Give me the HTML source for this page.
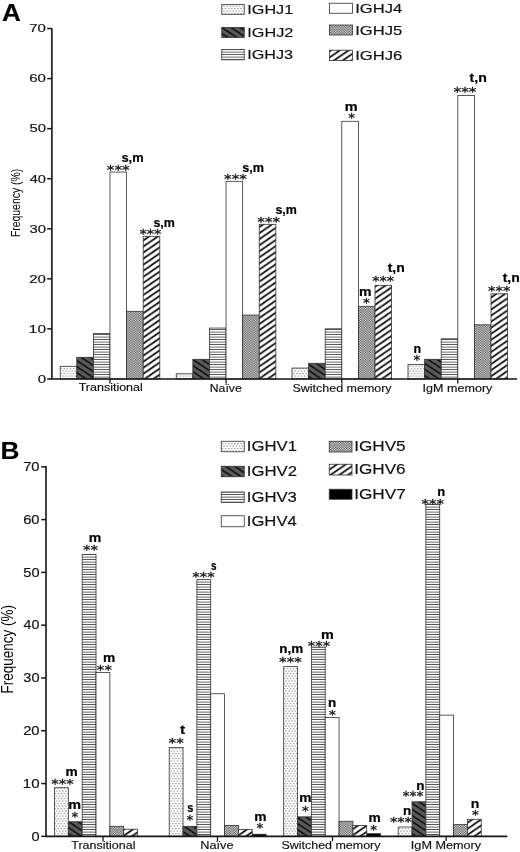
<!DOCTYPE html>
<html lang="en"><head><meta charset="utf-8"><title>Figure</title>
<style>html,body{margin:0;padding:0;background:#fff}svg{display:block}text{font-family:"Liberation Sans", sans-serif}text.dv{font-family:"DejaVu Sans",sans-serif}</style>
</head><body>
<svg width="520" height="852" viewBox="0 0 520 852">
<rect width="520" height="852" fill="#fff"/>
<defs>
<pattern id="ap1" width="3.100" height="5.000" patternUnits="userSpaceOnUse">
<rect width="3.100" height="5.000" fill="#fbfbfb"/>
<rect x="0.2" y="0.5" width="1.15" height="1.15" fill="#8c8c8c"/>
<rect x="1.750" y="3.000" width="1.15" height="1.15" fill="#8c8c8c"/>
</pattern>
<pattern id="ap2" width="9.045" height="6.060" patternUnits="userSpaceOnUse">
<rect width="9.045" height="6.060" fill="#5a5a5a"/>
<path d="M-9.045,-12.120 L18.090,6.060 M-9.045,-6.060 L18.090,12.120 M-9.045,0.000 L18.090,18.180 M-9.045,6.060 L18.090,24.240" stroke="#080808" stroke-width="1.50"/>
</pattern>
<pattern id="ap3" width="10" height="2.500" patternUnits="userSpaceOnUse">
<rect width="10" height="2.500" fill="#fff"/>
<rect y="1.640" width="10" height="0.86" fill="#484848"/>
</pattern>
<pattern id="ap5" width="2.500" height="1.730" patternUnits="userSpaceOnUse">
<rect width="2.500" height="1.730" fill="#fff"/>
<path d="M-2.500,1.730 L5.000,-3.460 M-2.500,3.460 L5.000,-1.730 M-2.500,5.190 L5.000,0.000 M-2.500,6.920 L5.000,1.730" stroke="#111" stroke-width="0.72"/>
</pattern>
<pattern id="ap6" width="8.783" height="6.060" patternUnits="userSpaceOnUse">
<rect width="8.783" height="6.060" fill="#fff"/>
<path d="M-8.783,6.060 L17.565,-12.120 M-8.783,12.120 L17.565,-6.060 M-8.783,18.180 L17.565,0.000 M-8.783,24.240 L17.565,6.060" stroke="#0a0a0a" stroke-width="1.70"/>
</pattern>
<pattern id="bp1" width="3.100" height="5.000" patternUnits="userSpaceOnUse">
<rect width="3.100" height="5.000" fill="#fbfbfb"/>
<rect x="0.2" y="0.5" width="1.15" height="1.15" fill="#8c8c8c"/>
<rect x="1.750" y="3.000" width="1.15" height="1.15" fill="#8c8c8c"/>
</pattern>
<pattern id="bp2" width="9.045" height="6.060" patternUnits="userSpaceOnUse">
<rect width="9.045" height="6.060" fill="#5a5a5a"/>
<path d="M-9.045,-12.120 L18.090,6.060 M-9.045,-6.060 L18.090,12.120 M-9.045,0.000 L18.090,18.180 M-9.045,6.060 L18.090,24.240" stroke="#080808" stroke-width="1.50"/>
</pattern>
<pattern id="bp3" width="10" height="2.500" patternUnits="userSpaceOnUse">
<rect width="10" height="2.500" fill="#fff"/>
<rect y="1.640" width="10" height="0.86" fill="#444"/>
</pattern>
<pattern id="bp5" width="2.500" height="1.730" patternUnits="userSpaceOnUse">
<rect width="2.500" height="1.730" fill="#fff"/>
<path d="M-2.500,1.730 L5.000,-3.460 M-2.500,3.460 L5.000,-1.730 M-2.500,5.190 L5.000,0.000 M-2.500,6.920 L5.000,1.730" stroke="#111" stroke-width="0.72"/>
</pattern>
<pattern id="bp6" width="8.783" height="6.060" patternUnits="userSpaceOnUse">
<rect width="8.783" height="6.060" fill="#fff"/>
<path d="M-8.783,6.060 L17.565,-12.120 M-8.783,12.120 L17.565,-6.060 M-8.783,18.180 L17.565,0.000 M-8.783,24.240 L17.565,6.060" stroke="#0a0a0a" stroke-width="1.70"/>
</pattern>
</defs>
<rect x="60.20" y="366.30" width="16.60" height="12.65" fill="url(#ap1)" stroke="#333" stroke-width="0.8"/>
<rect x="76.80" y="357.30" width="16.60" height="21.65" fill="url(#ap2)" stroke="#333" stroke-width="0.8"/>
<rect x="93.40" y="333.55" width="16.60" height="45.40" fill="url(#ap3)" stroke="#333" stroke-width="0.8"/>
<rect x="110.00" y="172.05" width="16.60" height="206.90" fill="#fff" stroke="#333" stroke-width="0.8"/>
<rect x="126.60" y="311.30" width="16.60" height="67.65" fill="url(#ap5)" stroke="#333" stroke-width="0.8"/>
<rect x="143.20" y="236.30" width="16.60" height="142.65" fill="url(#ap6)" stroke="#333" stroke-width="0.8"/>
<rect x="176.25" y="373.80" width="16.60" height="5.15" fill="url(#ap1)" stroke="#333" stroke-width="0.8"/>
<rect x="192.85" y="359.30" width="16.60" height="19.65" fill="url(#ap2)" stroke="#333" stroke-width="0.8"/>
<rect x="209.45" y="328.05" width="16.60" height="50.90" fill="url(#ap3)" stroke="#333" stroke-width="0.8"/>
<rect x="226.05" y="181.30" width="16.60" height="197.65" fill="#fff" stroke="#333" stroke-width="0.8"/>
<rect x="242.65" y="315.05" width="16.60" height="63.90" fill="url(#ap5)" stroke="#333" stroke-width="0.8"/>
<rect x="259.25" y="224.30" width="16.60" height="154.65" fill="url(#ap6)" stroke="#333" stroke-width="0.8"/>
<rect x="292.00" y="368.05" width="16.60" height="10.90" fill="url(#ap1)" stroke="#333" stroke-width="0.8"/>
<rect x="308.60" y="363.30" width="16.60" height="15.65" fill="url(#ap2)" stroke="#333" stroke-width="0.8"/>
<rect x="325.20" y="328.80" width="16.60" height="50.15" fill="url(#ap3)" stroke="#333" stroke-width="0.8"/>
<rect x="341.80" y="121.30" width="16.60" height="257.65" fill="#fff" stroke="#333" stroke-width="0.8"/>
<rect x="358.40" y="306.30" width="16.60" height="72.65" fill="url(#ap5)" stroke="#333" stroke-width="0.8"/>
<rect x="375.00" y="285.30" width="16.60" height="93.65" fill="url(#ap6)" stroke="#333" stroke-width="0.8"/>
<rect x="408.00" y="364.55" width="16.60" height="14.40" fill="url(#ap1)" stroke="#333" stroke-width="0.8"/>
<rect x="424.60" y="359.30" width="16.60" height="19.65" fill="url(#ap2)" stroke="#333" stroke-width="0.8"/>
<rect x="441.20" y="338.80" width="16.60" height="40.15" fill="url(#ap3)" stroke="#333" stroke-width="0.8"/>
<rect x="457.80" y="95.55" width="16.60" height="283.40" fill="#fff" stroke="#333" stroke-width="0.8"/>
<rect x="474.40" y="324.80" width="16.60" height="54.15" fill="url(#ap5)" stroke="#333" stroke-width="0.8"/>
<rect x="491.00" y="293.80" width="16.60" height="85.15" fill="url(#ap6)" stroke="#333" stroke-width="0.8"/>
<path d="M51.9,28.15 V378.95 H517.1" fill="none" stroke="#151515" stroke-width="1.6"/>
<path d="M47.2,378.95 H51.9" stroke="#151515" stroke-width="1.5"/>
<text transform="translate(37.70,382.75) scale(1.429,1.000)" font-size="10.5" fill="#111" stroke="#111" stroke-width="0.15">0</text>
<path d="M47.2,328.89 H51.9" stroke="#151515" stroke-width="1.5"/>
<text transform="translate(28.84,332.69) scale(1.467,1.000)" font-size="10.5" fill="#111" stroke="#111" stroke-width="0.15">10</text>
<path d="M47.2,278.83 H51.9" stroke="#151515" stroke-width="1.5"/>
<text transform="translate(29.25,282.63) scale(1.431,1.000)" font-size="10.5" fill="#111" stroke="#111" stroke-width="0.15">20</text>
<path d="M47.2,228.77 H51.9" stroke="#151515" stroke-width="1.5"/>
<text transform="translate(29.40,232.57) scale(1.417,1.000)" font-size="10.5" fill="#111" stroke="#111" stroke-width="0.15">30</text>
<path d="M47.2,178.71 H51.9" stroke="#151515" stroke-width="1.5"/>
<text transform="translate(29.71,182.51) scale(1.390,1.000)" font-size="10.5" fill="#111" stroke="#111" stroke-width="0.15">40</text>
<path d="M47.2,128.65 H51.9" stroke="#151515" stroke-width="1.5"/>
<text transform="translate(29.40,132.45) scale(1.417,1.000)" font-size="10.5" fill="#111" stroke="#111" stroke-width="0.15">50</text>
<path d="M47.2,78.59 H51.9" stroke="#151515" stroke-width="1.5"/>
<text transform="translate(29.25,82.39) scale(1.431,1.000)" font-size="10.5" fill="#111" stroke="#111" stroke-width="0.15">60</text>
<path d="M47.2,28.53 H51.9" stroke="#151515" stroke-width="1.5"/>
<text transform="translate(29.25,32.33) scale(1.431,1.000)" font-size="10.5" fill="#111" stroke="#111" stroke-width="0.15">70</text>
<path d="M110.00,378.95 V383.55" stroke="#151515" stroke-width="1.3"/>
<path d="M226.05,378.95 V383.55" stroke="#151515" stroke-width="1.3"/>
<path d="M341.80,378.95 V383.55" stroke="#151515" stroke-width="1.3"/>
<path d="M457.80,378.95 V383.55" stroke="#151515" stroke-width="1.3"/>
<text transform="translate(78.65,391.40) scale(1.226,1.000)" font-size="10.2" fill="#111" stroke="#111" stroke-width="0.15">Transitional</text>
<text transform="translate(209.77,391.60) scale(1.203,1.000)" font-size="10.2" fill="#111" stroke="#111" stroke-width="0.15">Naïve</text>
<text transform="translate(292.44,391.60) scale(1.225,1.000)" font-size="10.2" fill="#111" stroke="#111" stroke-width="0.15">Switched memory</text>
<text transform="translate(422.62,391.60) scale(1.232,1.000)" font-size="10.2" fill="#111" stroke="#111" stroke-width="0.15">IgM memory</text>
<text transform="translate(20.2,237.1) rotate(-90) scale(1,1.12)" font-size="10.6" textLength="68.3" lengthAdjust="spacingAndGlyphs">Frequency (%)</text>
<text transform="translate(2.05,21.00) scale(1.111,1.000)" font-size="23.5" font-weight="bold" fill="#000" stroke="#000" stroke-width="0.2">A</text>
<rect x="221.75" y="4.50" width="22.50" height="9.80" fill="url(#ap1)" stroke="#333" stroke-width="0.8"/>
<text transform="translate(247.29,13.75) scale(1.276,1.000)" font-size="12.7" fill="#111" stroke="#111" stroke-width="0.15">IGHJ1</text>
<rect x="221.75" y="27.50" width="22.50" height="10.00" fill="url(#ap2)" stroke="#333" stroke-width="0.8"/>
<text transform="translate(247.29,36.60) scale(1.278,1.000)" font-size="12.7" fill="#111" stroke="#111" stroke-width="0.15">IGHJ2</text>
<rect x="221.75" y="49.50" width="22.50" height="10.30" fill="url(#ap3)" stroke="#333" stroke-width="0.8"/>
<text transform="translate(247.29,58.80) scale(1.274,1.000)" font-size="12.7" fill="#111" stroke="#111" stroke-width="0.15">IGHJ3</text>
<rect x="329.50" y="3.25" width="23.00" height="10.00" fill="#fff" stroke="#333" stroke-width="0.8"/>
<text transform="translate(355.26,12.50) scale(1.305,1.000)" font-size="12.7" fill="#111" stroke="#111" stroke-width="0.15">IGHJ4</text>
<rect x="329.50" y="25.00" width="23.00" height="10.00" fill="url(#ap5)" stroke="#333" stroke-width="0.8"/>
<text transform="translate(355.25,34.50) scale(1.310,1.000)" font-size="12.7" fill="#111" stroke="#111" stroke-width="0.15">IGHJ5</text>
<rect x="329.50" y="50.20" width="23.00" height="10.40" fill="url(#ap6)" stroke="#333" stroke-width="0.8"/>
<text transform="translate(355.25,60.00) scale(1.310,1.000)" font-size="12.7" fill="#111" stroke="#111" stroke-width="0.15">IGHJ6</text>
<text transform="translate(106.79,174.44) scale(1.049,0.885)" font-size="14.5" class="dv" fill="#111" stroke="#111" stroke-width="0.3">***</text>
<text transform="translate(121.40,162.05) scale(1.050,1.000)" font-size="12.3" font-weight="bold" fill="#000" stroke="#000" stroke-width="0.2">s,m</text>
<text transform="translate(139.38,237.69) scale(1.013,0.885)" font-size="14.5" class="dv" fill="#111" stroke="#111" stroke-width="0.3">***</text>
<text transform="translate(153.41,226.55) scale(1.013,1.000)" font-size="12.3" font-weight="bold" fill="#000" stroke="#000" stroke-width="0.2">s,m</text>
<text transform="translate(224.09,183.19) scale(1.049,0.885)" font-size="14.5" class="dv" fill="#111" stroke="#111" stroke-width="0.3">***</text>
<text transform="translate(242.16,171.55) scale(1.025,1.000)" font-size="12.3" font-weight="bold" fill="#000" stroke="#000" stroke-width="0.2">s,m</text>
<text transform="translate(257.34,225.69) scale(1.049,0.885)" font-size="14.5" class="dv" fill="#111" stroke="#111" stroke-width="0.3">***</text>
<text transform="translate(275.41,214.05) scale(1.013,1.000)" font-size="12.3" font-weight="bold" fill="#000" stroke="#000" stroke-width="0.2">s,m</text>
<text transform="translate(348.19,121.99) scale(0.940,0.885)" font-size="14.5" class="dv" fill="#111" stroke="#111" stroke-width="0.3">*</text>
<text transform="translate(344.86,111.10) scale(1.180,1.000)" font-size="12.3" font-weight="bold" fill="#000" stroke="#000" stroke-width="0.2">m</text>
<text transform="translate(363.09,307.19) scale(0.940,0.885)" font-size="14.5" class="dv" fill="#111" stroke="#111" stroke-width="0.3">*</text>
<text transform="translate(358.98,295.50) scale(1.148,1.000)" font-size="12.3" font-weight="bold" fill="#000" stroke="#000" stroke-width="0.2">m</text>
<text transform="translate(372.21,284.89) scale(1.011,0.885)" font-size="14.5" class="dv" fill="#111" stroke="#111" stroke-width="0.3">***</text>
<text transform="translate(387.66,271.50) scale(1.138,1.000)" font-size="12.3" font-weight="bold" fill="#000" stroke="#000" stroke-width="0.2">t,n</text>
<text transform="translate(413.59,364.44) scale(0.940,0.885)" font-size="14.5" class="dv" fill="#111" stroke="#111" stroke-width="0.3">*</text>
<text transform="translate(413.54,352.80) scale(1.014,1.000)" font-size="12.3" font-weight="bold" fill="#000" stroke="#000" stroke-width="0.2">n</text>
<text transform="translate(453.54,96.49) scale(1.054,0.885)" font-size="14.5" class="dv" fill="#111" stroke="#111" stroke-width="0.3">***</text>
<text transform="translate(469.56,82.40) scale(1.145,1.000)" font-size="12.3" font-weight="bold" fill="#000" stroke="#000" stroke-width="0.2">t,n</text>
<text transform="translate(488.10,295.09) scale(1.030,0.885)" font-size="14.5" class="dv" fill="#111" stroke="#111" stroke-width="0.3">***</text>
<text transform="translate(502.66,281.60) scale(1.138,1.000)" font-size="12.3" font-weight="bold" fill="#000" stroke="#000" stroke-width="0.2">t,n</text>
<rect x="54.50" y="787.68" width="13.84" height="48.67" fill="url(#bp1)" stroke="#333" stroke-width="0.8"/>
<rect x="68.34" y="821.73" width="13.84" height="14.62" fill="url(#bp2)" stroke="#333" stroke-width="0.8"/>
<rect x="82.18" y="554.38" width="13.84" height="281.97" fill="url(#bp3)" stroke="#333" stroke-width="0.8"/>
<rect x="96.02" y="672.43" width="13.84" height="163.92" fill="#fff" stroke="#333" stroke-width="0.8"/>
<rect x="109.86" y="826.31" width="13.84" height="10.04" fill="url(#bp5)" stroke="#333" stroke-width="0.8"/>
<rect x="123.70" y="829.21" width="13.84" height="7.14" fill="url(#bp6)" stroke="#333" stroke-width="0.8"/>
<rect x="169.20" y="747.53" width="13.84" height="88.82" fill="url(#bp1)" stroke="#333" stroke-width="0.8"/>
<rect x="183.04" y="826.31" width="13.84" height="10.04" fill="url(#bp2)" stroke="#333" stroke-width="0.8"/>
<rect x="196.88" y="579.68" width="13.84" height="256.67" fill="url(#bp3)" stroke="#333" stroke-width="0.8"/>
<rect x="210.72" y="693.77" width="13.84" height="142.58" fill="#fff" stroke="#333" stroke-width="0.8"/>
<rect x="224.56" y="825.52" width="13.84" height="10.83" fill="url(#bp5)" stroke="#333" stroke-width="0.8"/>
<rect x="238.40" y="829.48" width="13.84" height="6.87" fill="url(#bp6)" stroke="#333" stroke-width="0.8"/>
<rect x="252.24" y="834.22" width="13.84" height="2.13" fill="#000" stroke="#333" stroke-width="0.8"/>
<rect x="283.70" y="666.63" width="13.84" height="169.72" fill="url(#bp1)" stroke="#333" stroke-width="0.8"/>
<rect x="297.54" y="816.83" width="13.84" height="19.52" fill="url(#bp2)" stroke="#333" stroke-width="0.8"/>
<rect x="311.38" y="647.13" width="13.84" height="189.22" fill="url(#bp3)" stroke="#333" stroke-width="0.8"/>
<rect x="325.22" y="717.49" width="13.84" height="118.86" fill="#fff" stroke="#333" stroke-width="0.8"/>
<rect x="339.06" y="821.25" width="13.84" height="15.10" fill="url(#bp5)" stroke="#333" stroke-width="0.8"/>
<rect x="352.90" y="825.52" width="13.84" height="10.83" fill="url(#bp6)" stroke="#333" stroke-width="0.8"/>
<rect x="366.74" y="833.69" width="13.84" height="2.66" fill="#000" stroke="#333" stroke-width="0.8"/>
<rect x="398.20" y="827.00" width="13.84" height="9.35" fill="url(#bp1)" stroke="#333" stroke-width="0.8"/>
<rect x="412.04" y="801.76" width="13.84" height="34.59" fill="url(#bp2)" stroke="#333" stroke-width="0.8"/>
<rect x="425.88" y="504.32" width="13.84" height="332.03" fill="url(#bp3)" stroke="#333" stroke-width="0.8"/>
<rect x="439.72" y="715.12" width="13.84" height="121.23" fill="#fff" stroke="#333" stroke-width="0.8"/>
<rect x="453.56" y="824.63" width="13.84" height="11.72" fill="url(#bp5)" stroke="#333" stroke-width="0.8"/>
<rect x="467.40" y="819.30" width="13.84" height="17.05" fill="url(#bp6)" stroke="#333" stroke-width="0.8"/>
<path d="M46.0,466.02 V836.35 H507.3" fill="none" stroke="#151515" stroke-width="1.6"/>
<path d="M41.2,836.35 H46.0" stroke="#151515" stroke-width="1.5"/>
<text transform="translate(31.42,840.55) scale(1.215,1.000)" font-size="12.0" fill="#111" stroke="#111" stroke-width="0.15">0</text>
<path d="M41.2,783.56 H46.0" stroke="#151515" stroke-width="1.5"/>
<text transform="translate(22.77,787.76) scale(1.258,1.000)" font-size="12.0" fill="#111" stroke="#111" stroke-width="0.15">10</text>
<path d="M41.2,730.77 H46.0" stroke="#151515" stroke-width="1.5"/>
<text transform="translate(23.16,734.97) scale(1.228,1.000)" font-size="12.0" fill="#111" stroke="#111" stroke-width="0.15">20</text>
<path d="M41.2,677.98 H46.0" stroke="#151515" stroke-width="1.5"/>
<text transform="translate(23.32,682.18) scale(1.216,1.000)" font-size="12.0" fill="#111" stroke="#111" stroke-width="0.15">30</text>
<path d="M41.2,625.19 H46.0" stroke="#151515" stroke-width="1.5"/>
<text transform="translate(23.61,629.39) scale(1.193,1.000)" font-size="12.0" fill="#111" stroke="#111" stroke-width="0.15">40</text>
<path d="M41.2,572.40 H46.0" stroke="#151515" stroke-width="1.5"/>
<text transform="translate(23.32,576.60) scale(1.216,1.000)" font-size="12.0" fill="#111" stroke="#111" stroke-width="0.15">50</text>
<path d="M41.2,519.61 H46.0" stroke="#151515" stroke-width="1.5"/>
<text transform="translate(23.16,523.81) scale(1.228,1.000)" font-size="12.0" fill="#111" stroke="#111" stroke-width="0.15">60</text>
<path d="M41.2,466.82 H46.0" stroke="#151515" stroke-width="1.5"/>
<text transform="translate(23.16,471.02) scale(1.228,1.000)" font-size="12.0" fill="#111" stroke="#111" stroke-width="0.15">70</text>
<path d="M103.00,836.35 V840.95" stroke="#151515" stroke-width="1.3"/>
<path d="M217.50,836.35 V840.95" stroke="#151515" stroke-width="1.3"/>
<path d="M332.50,836.35 V840.95" stroke="#151515" stroke-width="1.3"/>
<path d="M446.20,836.35 V840.95" stroke="#151515" stroke-width="1.3"/>
<text transform="translate(71.25,848.90) scale(1.165,1.000)" font-size="10.75" fill="#111" stroke="#111" stroke-width="0.15">Transitional</text>
<text transform="translate(200.18,849.00) scale(1.187,1.000)" font-size="10.75" fill="#111" stroke="#111" stroke-width="0.15">Naïve</text>
<text transform="translate(281.44,849.00) scale(1.161,1.000)" font-size="10.75" fill="#111" stroke="#111" stroke-width="0.15">Switched memory</text>
<text transform="translate(410.86,849.10) scale(1.178,1.000)" font-size="10.75" fill="#111" stroke="#111" stroke-width="0.15">IgM Memory</text>
<text transform="translate(13.45,693.5) rotate(-90) scale(1,1.19)" font-size="13.6" textLength="88.5" lengthAdjust="spacingAndGlyphs">Frequency (%)</text>
<text transform="translate(0.60,459.40) scale(1.102,1.000)" font-size="23.8" font-weight="bold" fill="#000" stroke="#000" stroke-width="0.2">B</text>
<rect x="221.25" y="441.25" width="23.00" height="10.50" fill="url(#bp1)" stroke="#333" stroke-width="0.8"/>
<text transform="translate(246.74,450.75) scale(1.214,1.000)" font-size="13.8" fill="#111" stroke="#111" stroke-width="0.15">IGHV1</text>
<rect x="221.25" y="466.25" width="23.00" height="10.50" fill="url(#bp2)" stroke="#333" stroke-width="0.8"/>
<text transform="translate(246.74,476.25) scale(1.216,1.000)" font-size="13.8" fill="#111" stroke="#111" stroke-width="0.15">IGHV2</text>
<rect x="221.25" y="492.00" width="23.00" height="10.50" fill="url(#bp3)" stroke="#333" stroke-width="0.8"/>
<text transform="translate(246.74,502.00) scale(1.212,1.000)" font-size="13.8" fill="#111" stroke="#111" stroke-width="0.15">IGHV3</text>
<rect x="221.25" y="515.75" width="23.00" height="11.00" fill="#fff" stroke="#333" stroke-width="0.8"/>
<text transform="translate(246.75,525.75) scale(1.208,1.000)" font-size="13.8" fill="#111" stroke="#111" stroke-width="0.15">IGHV4</text>
<rect x="329.25" y="441.25" width="22.75" height="10.75" fill="url(#bp5)" stroke="#333" stroke-width="0.8"/>
<text transform="translate(354.21,451.25) scale(1.243,1.000)" font-size="13.8" fill="#111" stroke="#111" stroke-width="0.15">IGHV5</text>
<rect x="329.25" y="464.25" width="22.75" height="10.75" fill="url(#bp6)" stroke="#333" stroke-width="0.8"/>
<text transform="translate(354.21,474.25) scale(1.243,1.000)" font-size="13.8" fill="#111" stroke="#111" stroke-width="0.15">IGHV6</text>
<rect x="329.25" y="489.25" width="22.75" height="10.00" fill="#000" stroke="#333" stroke-width="0.8"/>
<text transform="translate(354.20,498.75) scale(1.248,1.000)" font-size="13.8" fill="#111" stroke="#111" stroke-width="0.15">IGHV7</text>
<text transform="translate(51.35,787.59) scale(1.034,0.885)" font-size="14.5" class="dv" fill="#111" stroke="#111" stroke-width="0.3">***</text>
<text transform="translate(65.51,775.50) scale(1.116,1.000)" font-size="12.3" font-weight="bold" fill="#000" stroke="#000" stroke-width="0.2">m</text>
<text transform="translate(71.59,821.29) scale(0.940,0.885)" font-size="14.5" class="dv" fill="#111" stroke="#111" stroke-width="0.3">*</text>
<text transform="translate(68.37,809.10) scale(1.169,1.000)" font-size="12.3" font-weight="bold" fill="#000" stroke="#000" stroke-width="0.2">m</text>
<text transform="translate(83.07,554.44) scale(1.038,0.885)" font-size="14.5" class="dv" fill="#111" stroke="#111" stroke-width="0.3">**</text>
<text transform="translate(88.68,541.55) scale(1.148,1.000)" font-size="12.3" font-weight="bold" fill="#000" stroke="#000" stroke-width="0.2">m</text>
<text transform="translate(96.87,673.94) scale(1.038,0.885)" font-size="14.5" class="dv" fill="#111" stroke="#111" stroke-width="0.3">**</text>
<text transform="translate(102.95,661.55) scale(1.121,1.000)" font-size="12.3" font-weight="bold" fill="#000" stroke="#000" stroke-width="0.2">m</text>
<text transform="translate(168.59,746.94) scale(1.056,0.885)" font-size="14.5" class="dv" fill="#111" stroke="#111" stroke-width="0.3">**</text>
<text transform="translate(179.95,734.05) scale(1.259,1.000)" font-size="12.3" font-weight="bold" fill="#000" stroke="#000" stroke-width="0.2">t</text>
<text transform="translate(186.59,824.44) scale(0.940,0.885)" font-size="14.5" class="dv" fill="#111" stroke="#111" stroke-width="0.3">*</text>
<text transform="translate(187.21,812.05) scale(0.898,1.000)" font-size="12.3" font-weight="bold" fill="#000" stroke="#000" stroke-width="0.2">s</text>
<text transform="translate(192.35,581.19) scale(1.025,0.885)" font-size="14.5" class="dv" fill="#111" stroke="#111" stroke-width="0.3">***</text>
<text transform="translate(211.00,569.80) scale(0.813,1.000)" font-size="12.3" font-weight="bold" fill="#000" stroke="#000" stroke-width="0.2">s</text>
<text transform="translate(256.59,832.44) scale(0.940,0.885)" font-size="14.5" class="dv" fill="#111" stroke="#111" stroke-width="0.3">*</text>
<text transform="translate(254.20,820.80) scale(1.121,1.000)" font-size="12.3" font-weight="bold" fill="#000" stroke="#000" stroke-width="0.2">m</text>
<text transform="translate(279.09,666.44) scale(1.049,0.885)" font-size="14.5" class="dv" fill="#111" stroke="#111" stroke-width="0.3">***</text>
<text transform="translate(279.22,652.80) scale(1.095,1.000)" font-size="12.3" font-weight="bold" fill="#000" stroke="#000" stroke-width="0.2">n,m</text>
<text transform="translate(302.09,814.94) scale(0.940,0.885)" font-size="14.5" class="dv" fill="#111" stroke="#111" stroke-width="0.3">*</text>
<text transform="translate(299.20,802.30) scale(1.121,1.000)" font-size="12.3" font-weight="bold" fill="#000" stroke="#000" stroke-width="0.2">m</text>
<text transform="translate(307.85,649.94) scale(1.025,0.885)" font-size="14.5" class="dv" fill="#111" stroke="#111" stroke-width="0.3">***</text>
<text transform="translate(320.91,639.05) scale(1.174,1.000)" font-size="12.3" font-weight="bold" fill="#000" stroke="#000" stroke-width="0.2">m</text>
<text transform="translate(329.09,718.69) scale(0.940,0.885)" font-size="14.5" class="dv" fill="#111" stroke="#111" stroke-width="0.3">*</text>
<text transform="translate(327.97,706.55) scale(1.098,1.000)" font-size="12.3" font-weight="bold" fill="#000" stroke="#000" stroke-width="0.2">n</text>
<text transform="translate(370.34,833.69) scale(0.940,0.885)" font-size="14.5" class="dv" fill="#111" stroke="#111" stroke-width="0.3">*</text>
<text transform="translate(368.45,822.30) scale(1.121,1.000)" font-size="12.3" font-weight="bold" fill="#000" stroke="#000" stroke-width="0.2">m</text>
<text transform="translate(389.88,826.44) scale(1.013,0.885)" font-size="14.5" class="dv" fill="#111" stroke="#111" stroke-width="0.3">***</text>
<text transform="translate(402.97,814.80) scale(1.098,1.000)" font-size="12.3" font-weight="bold" fill="#000" stroke="#000" stroke-width="0.2">n</text>
<text transform="translate(402.41,799.94) scale(0.965,0.885)" font-size="14.5" class="dv" fill="#111" stroke="#111" stroke-width="0.3">***</text>
<text transform="translate(416.22,789.80) scale(1.098,1.000)" font-size="12.3" font-weight="bold" fill="#000" stroke="#000" stroke-width="0.2">n</text>
<text transform="translate(421.60,507.69) scale(1.025,0.885)" font-size="14.5" class="dv" fill="#111" stroke="#111" stroke-width="0.3">***</text>
<text transform="translate(437.26,496.05) scale(1.056,1.000)" font-size="12.3" font-weight="bold" fill="#000" stroke="#000" stroke-width="0.2">n</text>
<text transform="translate(472.09,819.49) scale(0.940,0.885)" font-size="14.5" class="dv" fill="#111" stroke="#111" stroke-width="0.3">*</text>
<text transform="translate(470.69,807.60) scale(1.140,1.000)" font-size="12.3" font-weight="bold" fill="#000" stroke="#000" stroke-width="0.2">n</text>
</svg></body></html>
